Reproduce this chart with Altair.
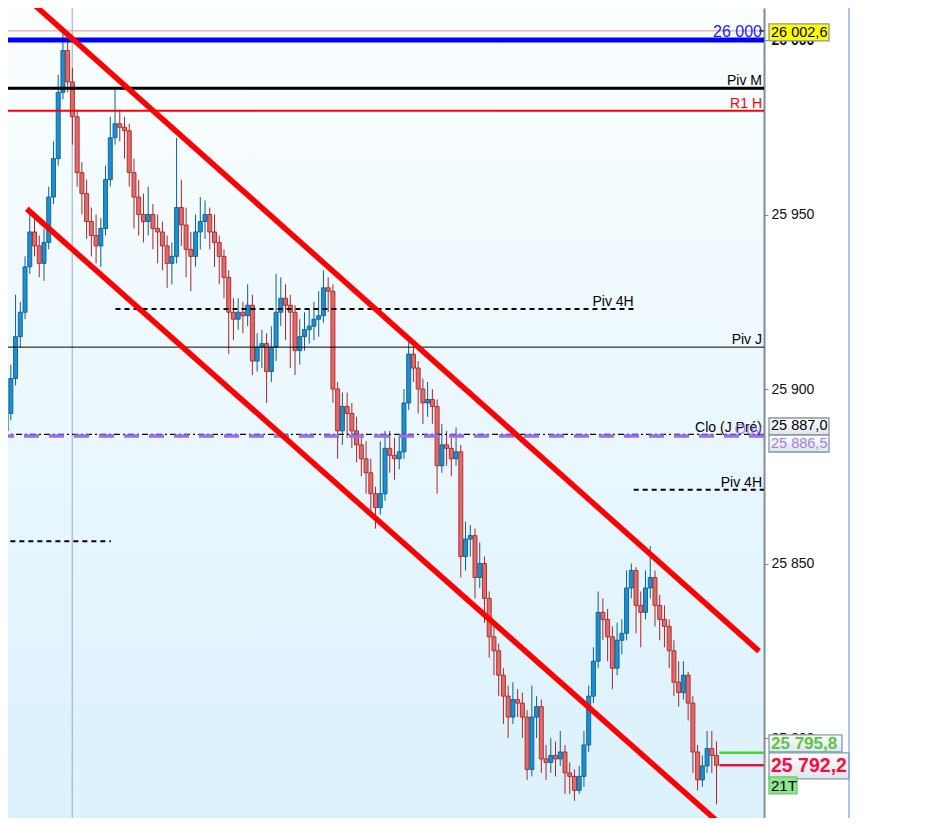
import altair as alt
import pandas as pd

# ---- candles (1 bar per entry, each bar opens at the previous close) ----
first_open = 25888
closes = [
    25893, 25903, 25915, 25922, 25935, 25945, 25941, 25936, 25942, 25955,
    25966, 25985, 25997, 25988, 25978, 25962, 25956, 25948, 25944, 25941,
    25946, 25960, 25972, 25976, 25975, 25974, 25962, 25955, 25950, 25948,
    25950, 25946, 25945, 25941, 25936, 25938, 25952, 25947, 25940, 25938,
    25945, 25948, 25950, 25945, 25942, 25938, 25932, 25922, 25920, 25922,
    25921, 25924, 25908, 25912, 25913, 25905, 25912, 25922, 25926, 25924,
    25922, 25911, 25915, 25917, 25918, 25920, 25921, 25929, 25928, 25900,
    25888, 25895, 25893, 25888, 25884, 25880, 25876, 25870, 25866, 25870,
    25883, 25881, 25880, 25882, 25896, 25910, 25906, 25900, 25896, 25897,
    25895, 25878, 25884, 25883, 25880, 25882, 25852, 25857, 25858, 25846,
    25850, 25840, 25829, 25825, 25818, 25812, 25806, 25811, 25810, 25806,
    25791, 25806, 25809, 25794, 25793, 25795, 25794, 25796, 25790, 25789,
    25785, 25789, 25798, 25812, 25822, 25836, 25834, 25829, 25820, 25828,
    25830, 25843, 25848, 25838, 25836, 25843, 25846, 25838, 25834, 25832,
    25825, 25816, 25813, 25818, 25810, 25796, 25788, 25792, 25797, 25795,
    25792.2,
]
highs = [
    25898, 25907, 25927, 25925, 25938, 25952, 25950, 25944, 25946, 25958,
    25971, 25990, 26002.6, 26000, 25992, 25980, 25965, 25960, 25952, 25950,
    25949, 25964, 25978, 25986, 25980, 25978, 25976, 25966, 25960, 25956,
    25958, 25953, 25950, 25948, 25944, 25942, 25972, 25960, 25952, 25945,
    25950, 25955, 25954, 25952, 25950, 25944, 25940, 25934, 25926, 25926,
    25925, 25930, 25927, 25916, 25917, 25916, 25918, 25933, 25932, 25930,
    25927, 25924, 25920, 25922, 25923, 25925, 25928, 25934, 25932, 25930,
    25902, 25899, 25899, 25896, 25892, 25887, 25885, 25880, 25872, 25885,
    25888, 25888, 25886, 25887, 25900, 25914, 25912, 25908, 25903, 25902,
    25900, 25897, 25890, 25888, 25886, 25889, 25884, 25862, 25861, 25860,
    25856, 25852, 25842, 25832, 25827, 25820, 25815, 25816, 25814, 25813,
    25808, 25815, 25812, 25811, 25798, 25800, 25799, 25802, 25798, 25793,
    25791, 25792, 25802, 25815, 25826, 25842, 25840, 25837, 25832, 25833,
    25834, 25848, 25850, 25849, 25842, 25848, 25855, 25848, 25841, 25838,
    25834, 25828, 25822, 25822, 25819, 25812, 25798, 25795, 25802, 25802,
    25799,
]
lows = [
    25886, 25891, 25901, 25912, 25920, 25933, 25938, 25932, 25931, 25940,
    25953, 25964, 25983, 25985, 25970, 25958, 25950, 25943, 25938, 25936,
    25935, 25944, 25958, 25970, 25971, 25966, 25958, 25946, 25944, 25942,
    25944, 25940, 25936, 25934, 25929, 25930, 25936, 25941, 25932, 25928,
    25935, 25940, 25943, 25940, 25935, 25930, 25926, 25910, 25914, 25917,
    25916, 25918, 25904, 25905, 25906, 25896, 25902, 25908, 25918, 25914,
    25906, 25904, 25907, 25911, 25913, 25914, 25915, 25919, 25922, 25896,
    25880, 25884, 25886, 25883, 25879, 25875, 25870, 25864, 25860, 25864,
    25868, 25876, 25874, 25877, 25880, 25894, 25902, 25893, 25890, 25892,
    25890, 25870, 25876, 25878, 25875, 25878, 25846, 25848, 25852, 25840,
    25843, 25833, 25823, 25818, 25812, 25804, 25800, 25804, 25806, 25800,
    25788, 25789, 25800, 25790, 25788, 25790, 25789, 25792, 25784, 25784,
    25782, 25784, 25786, 25796, 25810, 25820, 25828, 25822, 25814, 25818,
    25824, 25828, 25840, 25830, 25826, 25834, 25840, 25832, 25828, 25826,
    25820, 25812, 25809, 25811, 25805, 25790, 25785, 25786, 25790, 25790,
    25781,
]

# ---- price levels ----
day_high = 26002.6
round_level = 26000
piv_m = 25986.2
r1_h = 25979.7
piv_4h_prev = 25922.9
piv_j = 25912.0
clo_prev = 25887.0
ouv = 25886.5
piv_4h = 25871.1
old_level = 25856.4
bid = 25795.8
last = 25792.2
tick_label = "21T"

# spans in bar index for the partial levels
piv_4h_prev_span = [23.1, 132.5]
piv_4h_span = [132.5, 160]
old_level_span = [-1, 22.1]
last_span = [150.6, 160]
session_break = 13.96

# channel lines, (bar index, price) end points
upper_channel = [(4.79, 26011.5), (158.96, 25824.9)]
lower_channel = [(4.375, 25951.6), (151.25, 25774.8)]

axis_values = [25800, 25850, 25900, 25950, 26000]

# ---- layout ----
W, H = 756, 810
X_MIN, X_MAX = 1.458, 158.96
Y_MIN, Y_MAX = 25777.08, 26009.17
K = H / (Y_MAX - Y_MIN)  # px per point
FONT = "Liberation Sans"

UP_FILL, UP_EDGE = "#1b8fd2", "#0b5f94"
DOWN_FILL, DOWN_EDGE = "#e46a6a", "#ad2424"

xscale = alt.Scale(domain=[X_MIN, X_MAX], nice=False, zero=False)
yscale = alt.Scale(domain=[Y_MIN, Y_MAX], nice=False, zero=False)
yaxis = alt.Axis(
    orient="right", values=axis_values, grid=False, title=None,
    labelExpr="replace(format(datum.value, ','), ',', ' ')",
    labelFont="Liberation Sans", labelFontSize=14, labelColor="#111111",
    labelPadding=3, labelOverlap=False, labelBound=False,
    labelFontWeight={"condition": {"test": "datum.value == 26000", "value": "bold"},
                     "value": "normal"},
    tickSize=4, tickColor="#7d8b99", domainColor="#7d8b99", domainWidth=2,
)


def fr(p):
    return f"{p:,.1f}".replace(",", " ").replace(".", ",")


def X(field):
    return alt.X(field, scale=xscale, axis=None, title=None)


def Y(field):
    return alt.Y(field, scale=yscale, axis=yaxis, title=None)


one = pd.DataFrame({"a": [0]})

opens = [first_open] + closes[:-1]
candles = pd.DataFrame({
    "i": range(len(closes)), "open": opens, "close": closes,
    "high": highs, "low": lows,
})
candles["dir"] = ["up" if c >= o else "down" for o, c in zip(opens, closes)]

background = alt.Chart(one).mark_rect(
    fill=alt.Gradient(
        gradient="linear", x1=0, x2=0, y1=0, y2=1,
        stops=[alt.GradientStop(color="#fbfeff", offset=0),
               alt.GradientStop(color="#dbf1fc", offset=1)],
    )
).encode(x=alt.value(0), x2=alt.value(W - 1), y=alt.value(0), y2=alt.value(H))

sep = alt.Chart(pd.DataFrame({"i": [session_break]})).mark_rule(
    color="#97abc3", strokeWidth=1, clip=True
).encode(x=X("i:Q"))

dir_scale = dict(domain=["up", "down"])
wicks = alt.Chart(candles).mark_rule(strokeWidth=1, clip=True).encode(
    x=X("i:Q"), y=Y("low:Q"), y2="high:Q",
    color=alt.Color("dir:N", scale=alt.Scale(range=[UP_EDGE, DOWN_EDGE], **dir_scale), legend=None),
)
bodies = alt.Chart(candles).mark_bar(size=4, strokeWidth=0.9, clip=True).encode(
    x=X("i:Q"), y=Y("open:Q"), y2="close:Q",
    fill=alt.Fill("dir:N", scale=alt.Scale(range=[UP_FILL, DOWN_FILL], **dir_scale), legend=None),
    stroke=alt.Stroke("dir:N", scale=alt.Scale(range=[UP_EDGE, DOWN_EDGE], **dir_scale), legend=None),
)


def hline(price, color, width, dash=None, span=None, clip=True, opacity=1):
    d = pd.DataFrame({"price": [price]})
    kw = dict(color=color, strokeWidth=width, clip=clip, opacity=opacity)
    if dash:
        kw["strokeDash"] = dash
    enc = dict(y=Y("price:Q"))
    if span:
        d["x0"], d["x1"] = span
        enc["x"] = X("x0:Q")
        enc["x2"] = "x1:Q"
    return alt.Chart(d).mark_rule(**kw).encode(**enc)


def label(price, text, color, size, xpos=None, dy=-3, align="right", opacity=1):
    d = pd.DataFrame({"price": [price], "t": [text]})
    enc = dict(y=Y("price:Q"), text="t:N")
    if xpos is None:
        enc["x"] = alt.value(W - 2)
    else:
        d["x0"] = xpos
        enc["x"] = X("x0:Q")
    return alt.Chart(d).mark_text(
        font=FONT, fontSize=size, color=color, align=align,
        baseline="alphabetic", dy=dy, opacity=opacity,
    ).encode(**enc)


levels = [
    hline(day_high, "#f5a3a3", 1.2),
    hline(round_level, "#0000ff", 5),
    hline(piv_m, "#000000", 3),
    hline(r1_h, "#ff0000", 2),
    hline(piv_4h_prev, "#000000", 2, [5, 4], piv_4h_prev_span),
    hline(piv_j, "#000000", 1),
    hline(clo_prev, "#000000", 1.2, [6, 3, 2, 3]),
    hline(ouv, "#9b6cf0", 3.5, [15, 10]),
    hline(piv_4h, "#000000", 2, [5, 4], piv_4h_span),
    hline(old_level, "#000000", 2, [5, 4], old_level_span),
    hline(day_high, "#000000", 1.2, None, [158.96, 160], clip=False),
    hline(bid, "#4fcd3f", 2.5, None, last_span, clip=False),
    hline(last, "#f0103c", 2.5, None, last_span, clip=False),
]

channel = pd.DataFrame({
    "line": ["up", "up", "low", "low"],
    "i": [p[0] for p in upper_channel + lower_channel],
    "price": [p[1] for p in upper_channel + lower_channel],
})
channels = alt.Chart(channel).mark_line(
    color="#ff0000", strokeWidth=5.5, clip=True
).encode(x=X("i:Q"), y=Y("price:Q"), detail="line:N")

labels = [
    label(round_level, "26 000", "#2222ff", 16),
    label(piv_m, "Piv M", "#000000", 14),
    label(r1_h, "R1 H", "#ff0000", 14),
    label(piv_4h_prev, "Piv 4H", "#000000", 14, xpos=piv_4h_prev_span[1]),
    label(piv_j, "Piv J", "#000000", 14),
    label(clo_prev, "Clo (J Pré)", "#000000", 14, dy=-2),
    label(ouv, "Ouv", "#9b6cf0", 15, dy=-2, opacity=0.8),
    label(piv_4h, "Piv 4H", "#000000", 14),
]

# right side price boxes: anchor price, text, box top/bottom offset (px), x0, x1,
# fill, text colour, font size, weight, text offset (px)
grey_box = alt.Gradient(
    gradient="linear", x1=0, x2=0, y1=0, y2=1,
    stops=[alt.GradientStop(color="#ffffff", offset=0),
           alt.GradientStop(color="#dde5ee", offset=1)],
)
boxes = [
    (day_high, fr(day_high), -7, 10, 761, 821, "#ffff00", "#000000", 14.5, "normal", 1.6),
    (clo_prev, fr(clo_prev), -16.4, 0.6, 761, 821, grey_box, "#000000", 14.5, "normal", -8.2),
    (ouv, fr(ouv), -1.1, 15.9, 761, 821, grey_box, "#a57cf2", 14.5, "normal", 8.0),
    (bid, fr(bid), -17.7, -0.7, 761, 834, grey_box, "#55c844", 17, "bold", -9.0),
    (last, fr(last), -12.3, 13.7, 761, 841, grey_box, "#ff0a3c", 19.5, "bold", 0.9),
    (last, tick_label, 11.7, 28.7, 761, 789, "#90e48f", "#000000", 15, "normal", 20.4),
]
box_layers = []
for price, text, top, bot, x0, x1, fill, tcol, size, weight, tdy in boxes:
    d = pd.DataFrame({"price": [price], "top": [price - top / K],
                      "bot": [price - bot / K], "t": [text]})
    stroke = "#6fc46f" if text == tick_label else "#8796a5"
    box_layers.append(
        alt.Chart(d).mark_rect(fill=fill, stroke=stroke, strokeWidth=1.3).encode(
            x=alt.value(x0), x2=alt.value(x1), y=Y("top:Q"), y2="bot:Q")
    )
    box_layers.append(
        alt.Chart(d).mark_text(
            font=FONT, fontSize=size, fontWeight=weight, color=tcol,
            align="left", baseline="middle", dy=tdy,
        ).encode(x=alt.value(763), y=Y("price:Q"), text="t:N")
    )

frame = alt.Chart(one).mark_rule(color="#7aa0d8", strokeWidth=1.2).encode(
    x=alt.value(841), y=alt.value(0), y2=alt.value(H))

chart = alt.layer(
    background, sep, wicks, bodies, *levels, channels, *labels, *box_layers, frame
).properties(
    width=W, height=H,
    autosize=alt.AutoSizeParams(type="none"),
    padding={"left": 0, "top": 0, "right": 160, "bottom": 0},
    background="white",
).configure_view(strokeWidth=0)

chart.save("out.html", embed_options={"renderer": "svg", "actions": False})
